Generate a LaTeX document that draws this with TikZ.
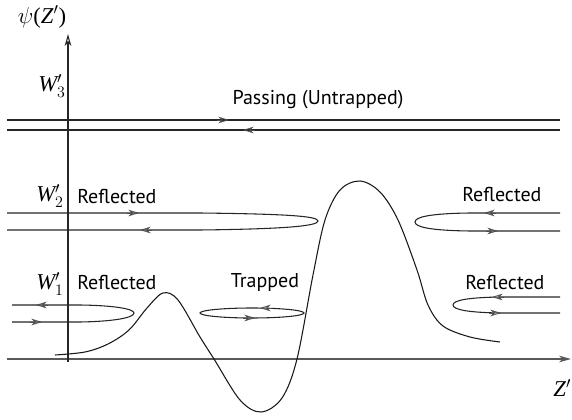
\documentclass[tikz,border=0pt]{standalone}
\usepackage{fontspec}
\newfontfamily\lab{PT Sans}
\newfontfamily\tms{Liberation Serif}
\usetikzlibrary{arrows.meta}
\newcommand{\wlab}[1]{{\tms\itshape W}$'_{#1}$}
\begin{document}
\begin{tikzpicture}[x=0.75pt,y=-0.75pt,
  ln/.style={draw=black!85, line width=0.8pt},
  ax/.style={draw=black!65, line width=1.2pt},
  hd/.style={draw=black!70, line width=0.6pt, -{Stealth[open,length=8pt,width=5pt,inset=2.5pt]}},
  txt/.style={font=\lab\fontsize{15}{18}\selectfont, inner sep=0pt},
  mth/.style={font=\tms\fontsize{17}{20}\selectfont, inner sep=0pt}]
\useasboundingbox (0,0) rectangle (572,420);
% axes
\draw[ax,-{Stealth[open,length=9pt,width=5pt,inset=2.5pt]}] (7,359) -- (571,359);
\draw[draw=black!85, line width=0.8pt,-{Stealth[open,length=9pt,width=5pt,inset=2.5pt]}] (68,362) -- (68,34);
\node[mth] (psi) at (42,17) {$\psi$(\textit{Z}$'$)};
\node[mth,anchor=west] (zp) at (553,388) {\textit{Z}$'$};
% W3
\node[mth] (w3) at (52,86) {\wlab{3}};
\draw[ln] (7,120) -- (560,120);
\draw[ln] (7,130) -- (560,130);
\draw[hd] (217,120) -- (229,120);
\draw[hd] (255,130) -- (243,130);
\node[txt] (pass) at (318,100) {Passing (Untrapped)};
% W2
\node[mth] (w2) at (50,196) {\wlab{2}};
\node[txt,anchor=west] (r2l) at (77,197) {Reflected};
\draw[ln] (7,213) -- (200,213) .. controls (285,214) and (318,216) .. (318,221)
  .. controls (318,226) and (285,229) .. (200,230) -- (7,230);
\draw[hd] (127,213) -- (139,213);
\draw[hd] (152,230) -- (140,230);
\node[txt,anchor=west] (r2r) at (462,195) {Reflected};
\draw[ln] (560,213) -- (470,213) .. controls (430,213.5) and (415,217) .. (415,222)
  .. controls (415,227) and (430,230.5) .. (470,231) -- (560,231);
\draw[hd] (496,213) -- (484,213);
\draw[hd] (486,231) -- (498,231);
% W1
\node[mth] (w1) at (50,284) {\wlab{1}};
\node[txt,anchor=west] (r1l) at (77,283) {Reflected};
\draw[ln] (12,305) -- (80,305) .. controls (115,305.5) and (134,309) .. (134,313)
  .. controls (134,318) and (112,321.5) .. (80,322) -- (12,322);
\draw[hd] (48,305) -- (36,305);
\draw[hd] (30,322) -- (42,322);
\node[txt] (trap) at (265,283) {Trapped};
\draw[ln] (252,313) ellipse (52 and 5);
\draw[hd] (272,308) -- (260,308);
\draw[hd] (243,318) -- (255,318);
\node[txt,anchor=west] (r1r) at (465,283) {Reflected};
\draw[ln] (560,297) -- (500,297) .. controls (470,297.5) and (453,300) .. (453,305)
  .. controls (453,310) and (470,312.5) .. (500,313) -- (560,313);
\draw[hd] (504,297) -- (492,297);
\draw[hd] (489,313) -- (501,313);
% potential
\draw[draw=black!90, line width=0.8pt] plot[smooth, tension=0.55] coordinates {
 (55,355) (85,352) (108,344) (129,330) (147,308) (163,293) (178,300) (200,337)
 (214,359) (240,400) (261,412) (282,398) (297,359) (313,275) (325,220) (340,190)
 (360,181) (380,192) (398,220) (417,270) (428,305) (443,326) (470,337) (500,342)};
\end{tikzpicture}
\end{document}
